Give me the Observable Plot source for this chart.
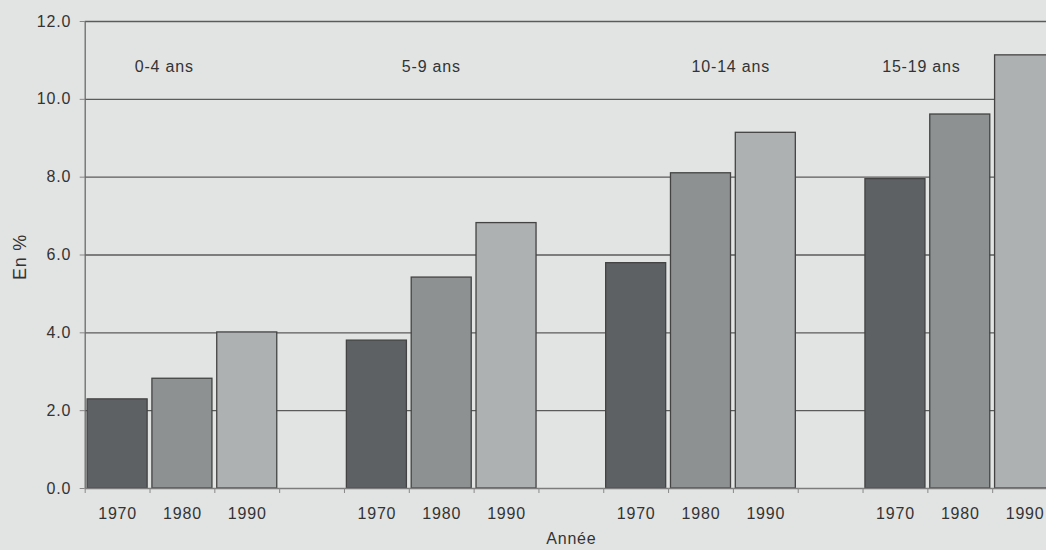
<!DOCTYPE html>
<html>
<head>
<meta charset="utf-8">
<script src="https://cdn.jsdelivr.net/npm/d3@7"></script>
<script src="https://cdn.jsdelivr.net/npm/@observablehq/plot@0.6"></script>
<style>
  html, body { margin: 0; padding: 0; background: #e2e4e3; overflow: hidden; width: 1046px; height: 550px; }
  #chart { width: 1046px; height: 550px; overflow: hidden; }
  #chart svg { max-width: none !important; }
</style>
</head>
<body>
<div id="chart"></div>
<script>
// ---- data ----
const ageGroups = ["0-4 ans", "5-9 ans", "10-14 ans", "15-19 ans"];
const years = ["1970", "1980", "1990"];
const values1970 = [2.29, 3.80, 5.79, 7.95];
const values1980 = [2.82, 5.42, 8.10, 9.61];
const values1990 = [4.01, 6.82, 9.14, 11.13];
const yTicks = [0, 2, 4, 6, 8, 10, 12];

// ---- layout helpers ----
const slotsPerGroup = years.length + 1; // three bars + one empty slot between groups
const totalSlots = ageGroups.length * slotsPerGroup - 1;
const barInset = 0.037;
const groupLabelOffset = [1.22, 1.34, 1.96, 0.90]; // label anchor, in slots from group start
const barColors = ["#5e6163", "#8d9192", "#adb1b2"];

const series = [values1970, values1980, values1990];
const bars = [];
ageGroups.forEach((g, gi) => {
  years.forEach((yr, yi) => {
    bars.push({group: g, year: yr, value: series[yi][gi], slot: gi * slotsPerGroup + yi});
  });
});
const groupLabels = ageGroups.map((g, gi) => ({label: g, x: gi * slotsPerGroup + groupLabelOffset[gi]}));

const chart = Plot.plot({
  width: 1057,
  height: 550,
  marginLeft: 84.7,
  marginRight: 0,
  marginTop: 21,
  marginBottom: 62,
  x: {type: "linear", domain: [0, totalSlots], axis: null},
  y: {domain: [0, 12], axis: null},
  color: {domain: years, range: barColors},
  style: {
    background: "#e2e4e3",
    fontFamily: "'Liberation Sans', Arial, sans-serif",
    fontSize: "16px",
    letterSpacing: "0.8px",
    color: "#333",
    overflow: "hidden",
    maxWidth: "none"
  },
  marks: [
    Plot.ruleY(yTicks.filter(d => d > 0), {x1: 0, x2: totalSlots, stroke: "#5b5b5b", strokeWidth: 1.3, strokeOpacity: 1}),
    Plot.rectY(bars, {
      x1: d => d.slot + barInset,
      x2: d => d.slot + 1 - barInset,
      y1: 0,
      y2: "value",
      fill: "year",
      stroke: "#434343",
      strokeWidth: 1.3
    }),
    Plot.ruleY([0], {x1: 0, x2: totalSlots, stroke: "#7c7c7c", strokeWidth: 1.6}),
    Plot.ruleX([0], {y1: 0, y2: 12, stroke: "#6a6a6a", strokeWidth: 1.3}),
    Plot.axisY({
      ticks: yTicks,
      tickSize: 5,
      tickPadding: 9,
      tickFormat: d => d.toFixed(1),
      label: null,
      stroke: "#888",
      fill: "#333",
      fontSize: 16
    }),
    Plot.axisX({
      ticks: d3.range(totalSlots + 1),
      tickSize: 5,
      tickFormat: () => "",
      label: null,
      stroke: "#888"
    }),
    Plot.text(bars, {x: d => d.slot + 0.5, y: 0, dy: 25, text: "year", fill: "#333", fontSize: 16}),
    Plot.text(groupLabels, {x: "x", frameAnchor: "top", dy: 39, text: "label", fill: "#333", fontSize: 16}),
    Plot.text(["En %"], {frameAnchor: "left", textAnchor: "middle", dx: -65, dy: 2, rotate: -90, text: d => d, fill: "#333", fontSize: 18, letterSpacing: "1.2px"}),
    Plot.text(["Année"], {x: totalSlots / 2, frameAnchor: "bottom", dy: 55, text: d => d, fill: "#333", fontSize: 16})
  ]
});

document.getElementById("chart").appendChild(chart);
</script>
</body>
</html>
